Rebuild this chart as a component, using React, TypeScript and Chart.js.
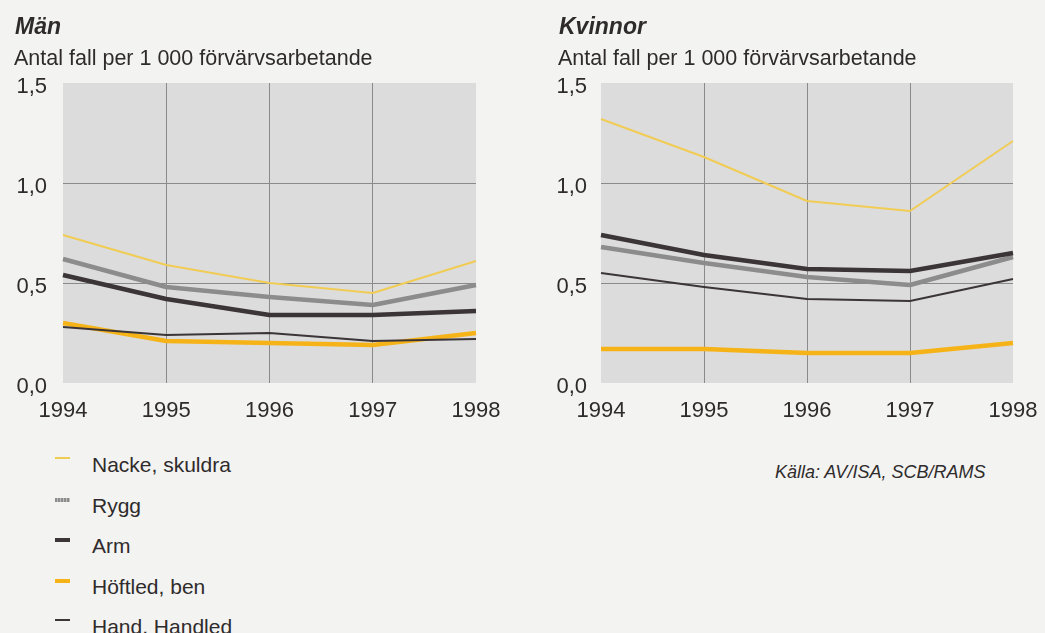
import React, { useEffect, useRef } from 'react';
import { Chart, registerables } from 'chart.js';

Chart.register(...registerables);

const years = ['1994', '1995', '1996', '1997', '1998'];
const yTickLabels = ['0,0', '0,5', '1,0', '1,5'];

const seriesNames = ['Nacke, skuldra', 'Rygg', 'Arm', 'Höftled, ben', 'Hand, Handled'];

// Män
const menNacke = [0.74, 0.59, 0.50, 0.45, 0.61];
const menRygg = [0.62, 0.48, 0.43, 0.39, 0.49];
const menArm = [0.54, 0.42, 0.34, 0.34, 0.36];
const menHoft = [0.30, 0.21, 0.20, 0.19, 0.25];
const menHand = [0.28, 0.24, 0.25, 0.21, 0.22];

// Kvinnor
const womenNacke = [1.32, 1.13, 0.91, 0.86, 1.21];
const womenRygg = [0.68, 0.60, 0.53, 0.49, 0.63];
const womenArm = [0.74, 0.64, 0.57, 0.56, 0.65];
const womenHoft = [0.17, 0.17, 0.15, 0.15, 0.20];
const womenHand = [0.55, 0.48, 0.42, 0.41, 0.52];

const seriesColors = ['#f1cc55', '#8c8c8c', '#3b3538', '#f6b318', '#3b3538'];
const seriesWidths = [2, 4.5, 4.5, 4.5, 2];
const seriesOrder = [1, 3, 2, 4, 0];

const FONT = '"Liberation Sans", Arial, Helvetica, sans-serif';
const TEXT = '#2f2b2c';
const GRID = '#8a8a8a';
const CANVAS_H = 440;

const plotBg = {
  id: 'plotBg',
  beforeDraw(chart: any) {
    const { ctx, chartArea: a } = chart;
    ctx.save();
    ctx.fillStyle = '#dcdcdc';
    ctx.fillRect(a.left, a.top, a.right - a.left, a.bottom - a.top);
    ctx.restore();
  },
};

function Panel(props: { series: number[][]; width: number; plotLeft: number; plotRight: number; labelGap: number }) {
  const ref = useRef<HTMLCanvasElement | null>(null);
  useEffect(() => {
    if (!ref.current) return;
    const { series, width, plotLeft, plotRight, labelGap } = props;
    const chart = new Chart(ref.current, {
      type: 'line',
      data: {
        labels: years,
        datasets: series.map((vals, i) => ({
          label: seriesNames[i],
          data: vals,
          borderColor: seriesColors[i],
          borderWidth: seriesWidths[i],
          pointRadius: 0,
          tension: 0,
          fill: false,
          order: seriesOrder[i],
          borderCapStyle: 'butt',
          borderJoinStyle: 'round',
        })),
      },
      options: {
        animation: false,
        responsive: false,
        layout: { padding: { top: 83, left: 0, right: width - plotRight, bottom: CANVAS_H - 383 - 40 } },
        plugins: { legend: { display: false }, tooltip: { enabled: false }, title: { display: false } },
        scales: {
          x: {
            type: 'category',
            offset: false,
            grid: {
              color: (c: any) => (c.index === 0 || c.index === years.length - 1 ? 'rgba(0,0,0,0)' : GRID),
              lineWidth: 1,
              drawTicks: false,
            },
            border: { display: false },
            ticks: { font: { family: FONT, size: 22 }, color: TEXT, padding: 15, maxRotation: 0, autoSkip: false },
            afterFit: (s: any) => { s.height = 40; s.paddingLeft = 0; s.paddingRight = 0; },
          },
          y: {
            min: 0,
            max: 1.5,
            grid: {
              color: (c: any) => (c.index === 1 || c.index === 2 ? GRID : 'rgba(0,0,0,0)'),
              lineWidth: 1,
              drawTicks: false,
            },
            border: { display: false },
            ticks: {
              stepSize: 0.5,
              font: { family: FONT, size: 22 },
              color: TEXT,
              padding: labelGap,
              labelOffset: 4,
              callback: (_v: any, i: number) => yTickLabels[i],
            },
            afterFit: (s: any) => { s.width = plotLeft; s.paddingTop = 0; s.paddingBottom = 0; },
          },
        },
      },
      plugins: [plotBg],
    } as any);
    return () => chart.destroy();
  }, []);
  return <canvas ref={ref} width={props.width} height={CANVAS_H} style={{ width: props.width, height: CANVAS_H, display: 'block' }} />;
}

function Swatch({ i }: { i: number }) {
  const base: React.CSSProperties = { width: 15, height: seriesWidths[i] > 3 ? 4 : 2, background: seriesColors[i] };
  if (i === 1) {
    base.background = 'repeating-linear-gradient(90deg, #8c8c8c 0 2px, #bdbdbd 2px 3px)';
    base.height = 4;
  }
  return <div style={base} />;
}

export default function App() {
  const abs = (l: number, t: number): React.CSSProperties => ({ position: 'absolute', left: l, top: t, whiteSpace: 'nowrap' });
  return (
    <div style={{ position: 'fixed', left: 0, top: 0, width: 1045, height: 633, background: '#f3f3f1', fontFamily: FONT, color: TEXT, overflow: 'hidden' }}>
      <div style={{ position: 'absolute', left: 0, top: 0 }}>
        <Panel series={[menNacke, menRygg, menArm, menHoft, menHand]} width={522} plotLeft={63} plotRight={476} labelGap={16} />
      </div>
      <div style={{ position: 'absolute', left: 522, top: 0 }}>
        <Panel series={[womenNacke, womenRygg, womenArm, womenHoft, womenHand]} width={523} plotLeft={79} plotRight={491} labelGap={14} />
      </div>
      <div style={{ ...abs(15, 15), fontSize: 23, fontWeight: 'bold', fontStyle: 'italic', lineHeight: '23px' }}>Män</div>
      <div style={{ ...abs(559, 15), fontSize: 23, fontWeight: 'bold', fontStyle: 'italic', lineHeight: '23px' }}>Kvinnor</div>
      <div style={{ ...abs(14, 47), fontSize: 21.5, lineHeight: '22px' }}>Antal fall per 1 000 förvärvsarbetande</div>
      <div style={{ ...abs(558, 47), fontSize: 21.5, lineHeight: '22px' }}>Antal fall per 1 000 förvärvsarbetande</div>
      <div style={{ ...abs(775, 461), fontSize: 18, fontStyle: 'italic', lineHeight: '22px' }}>Källa: AV/ISA, SCB/RAMS</div>
      {seriesNames.map((name, i) => (
        <React.Fragment key={name}>
          <div style={{ position: 'absolute', left: 55, top: 459 + i * 40.5 - 2 }}>
            <Swatch i={i} />
          </div>
          <div style={{ ...abs(92, 465 + i * 40.5 - 12), fontSize: 21, lineHeight: '24px' }}>{name}</div>
        </React.Fragment>
      ))}
    </div>
  );
}
